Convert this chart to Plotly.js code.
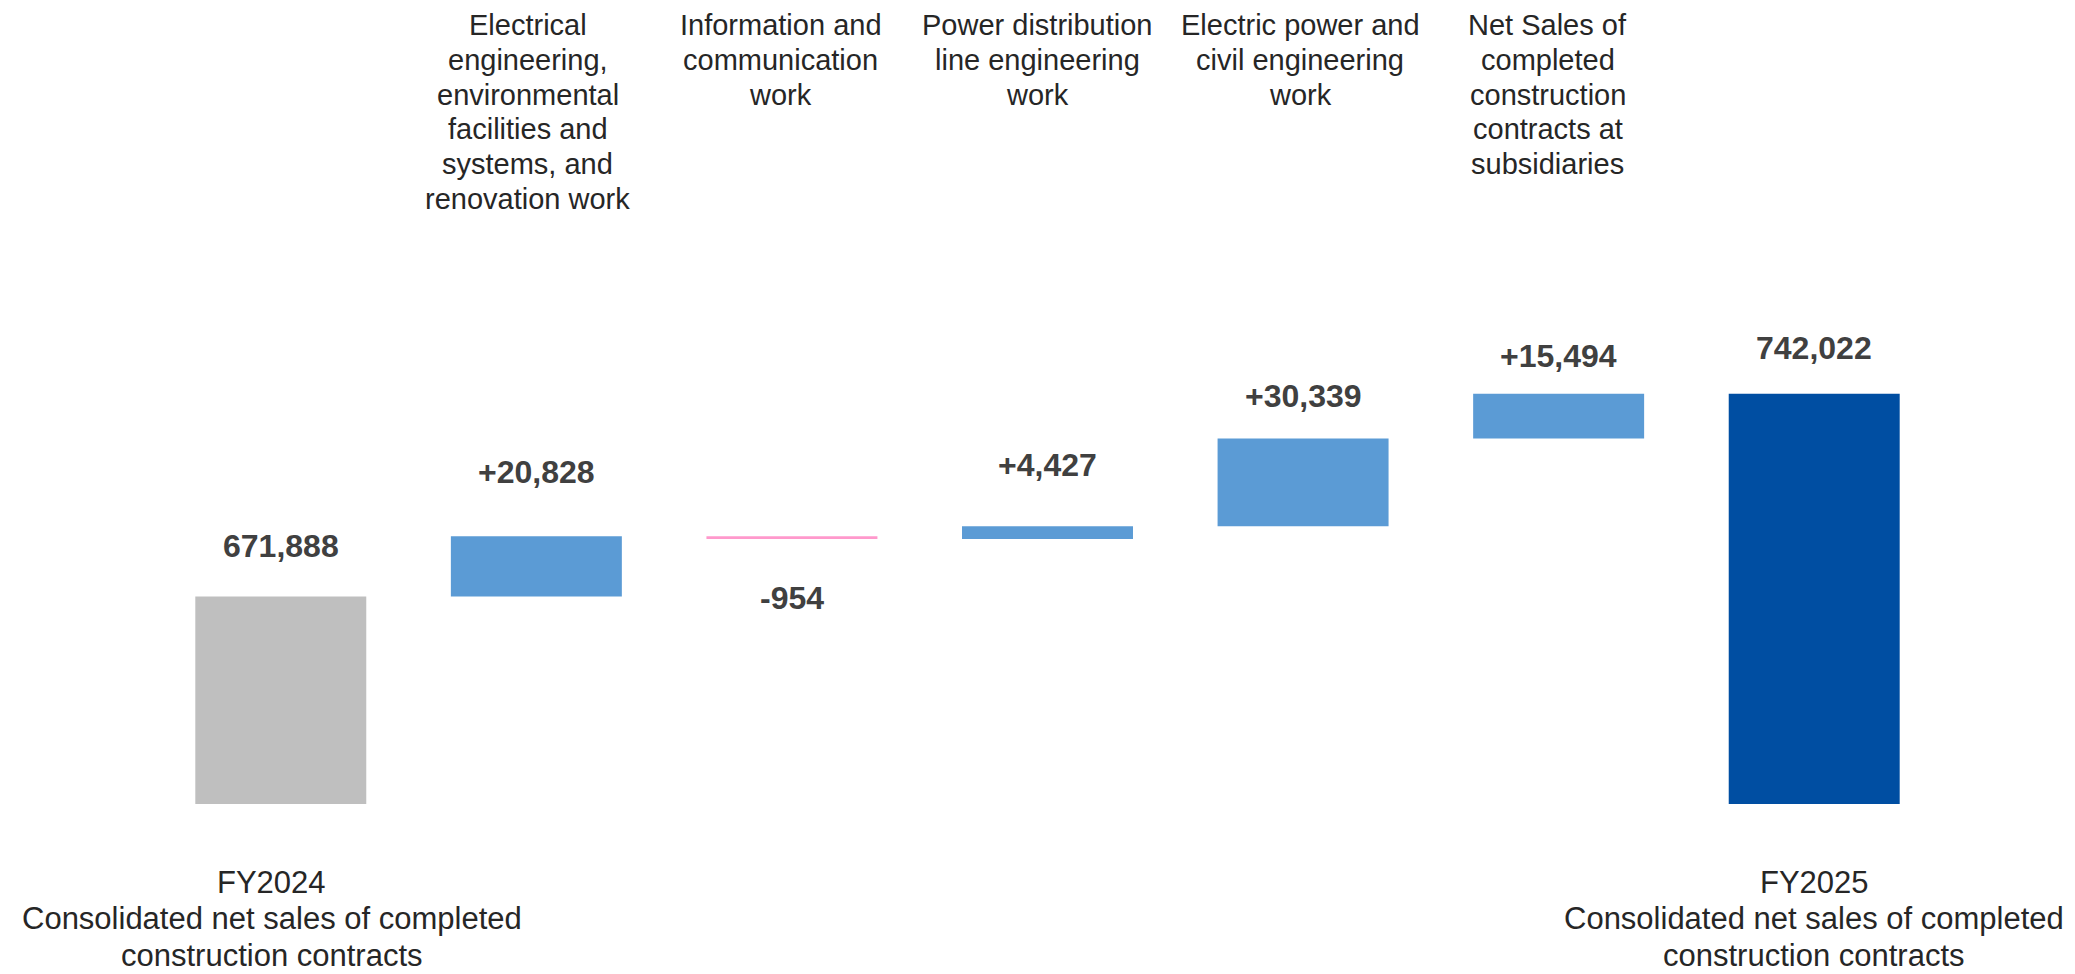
<!DOCTYPE html>
<html>
<head>
<meta charset="utf-8">
<script src="https://cdn.plot.ly/plotly-3.0.1.min.js"></script>
<style>
  html, body { margin: 0; padding: 0; background: #ffffff; }
  #chart { width: 2075px; height: 974px; }
</style>
</head>
<body>
<div id="chart"></div>
<script>
// ---- Data ----
const categoryLabels = [
  ['FY2024', 'Consolidated net sales of completed', 'construction contracts'],
  ['Electrical', 'engineering,', 'environmental', 'facilities and', 'systems, and', 'renovation work'],
  ['Information and', 'communication', 'work'],
  ['Power distribution', 'line engineering', 'work'],
  ['Electric power and', 'civil engineering', 'work'],
  ['Net Sales of', 'completed', 'construction', 'contracts at', 'subsidiaries'],
  ['FY2025', 'Consolidated net sales of completed', 'construction contracts']
];
const values = [671888, 20828, -954, 4427, 30339, 15494, 742022];
const measures = ['absolute', 'relative', 'relative', 'relative', 'relative', 'relative', 'total'];

// ---- Styles ----
const barColors = ['#BFBFBF', '#5B9BD5', '#FF99CC', '#5B9BD5', '#5B9BD5', '#5B9BD5', '#004EA2'];
const labelSide = ['bottom', 'top', 'top', 'top', 'top', 'top', 'bottom'];
const labelXShift = [-9, -8.5, -11, -10.5, -3, -11, 0];
const valueLabelShift = [50, 64, -59, 61, 42.5, 37.5, 46];
const FONT = 'Liberation Sans, Arial, sans-serif';

// ---- Build waterfall geometry from data ----
const categories = categoryLabels.map(l => l.join(' '));
const bases = [], heights = [], tops = [], texts = [];
let running = 0;
values.forEach((v, i) => {
  if (measures[i] === 'absolute' || measures[i] === 'total') {
    bases.push(0); heights.push(v); running = v;
    tops.push(v);
    texts.push(v.toLocaleString('en-US'));
  } else {
    bases.push(running); heights.push(v);
    running += v;
    tops.push(running);
    texts.push((v > 0 ? '+' : '-') + Math.abs(v).toLocaleString('en-US'));
  }
});

const trace = {
  type: 'bar',
  x: categories,
  y: heights,
  base: bases,
  marker: { color: barColors, line: { width: 0 } },
  hoverinfo: 'skip',
  showlegend: false
};

const annotations = [];
// value labels
values.forEach((v, i) => {
  annotations.push({
    x: categories[i], xref: 'x',
    y: tops[i], yref: 'y',
    yshift: valueLabelShift[i],
    yanchor: 'middle', xanchor: 'center',
    text: texts[i], showarrow: false,
    font: { family: FONT, size: 32, color: '#404040', weight: 700 }
  });
});
// category labels
categoryLabels.forEach((lines, i) => {
  const top = labelSide[i] === 'top';
  lines.forEach((line, k) => {
    const centerPx = top ? 25 + 34.8 * k : 882 + 36.5 * k;
    annotations.push({
      x: categories[i], xref: 'x',
      y: 1, yref: 'paper',
      yshift: -centerPx,
      xshift: labelXShift[i],
      yanchor: 'middle', xanchor: 'center',
      text: line, showarrow: false,
      font: { family: FONT, size: top ? 29 : 31, color: '#262626' }
    });
  });
});

const layout = {
  width: 2075, height: 974,
  margin: { l: 153, r: 133, t: 0, b: 170, pad: 0 },
  paper_bgcolor: '#ffffff', plot_bgcolor: '#ffffff',
  font: { family: FONT },
  bargap: 0.331,
  xaxis: {
    type: 'category', range: [-0.5, 6.5],
    showticklabels: false, showgrid: false, zeroline: false, showline: false, ticks: ''
  },
  yaxis: {
    range: [600000, 878400],
    showticklabels: false, showgrid: false, zeroline: false, showline: false, ticks: ''
  },
  annotations: annotations
};

Plotly.newPlot('chart', [trace], layout, { displayModeBar: false, staticPlot: true });
</script>
</body>
</html>
